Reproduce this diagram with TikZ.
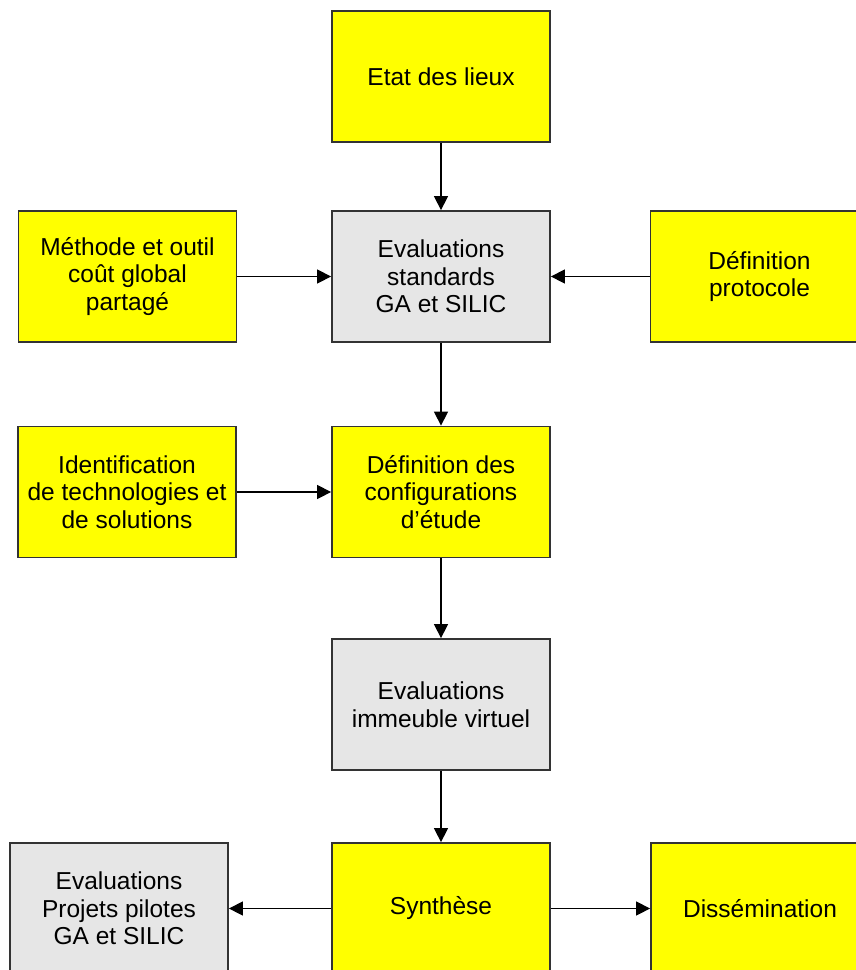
\documentclass[tikz,border=0pt]{standalone}
\usepackage{fontspec}
\setmainfont{Liberation Sans}
\usetikzlibrary{arrows.meta}
\definecolor{boxyellow}{HTML}{FFFF00}
\definecolor{boxgray}{HTML}{E6E6E6}
\definecolor{boxline}{HTML}{333333}
\begin{document}
\begin{tikzpicture}[x=1pt,y=-1pt,
  box/.style={draw=boxline, line width=1.8pt, minimum width=218pt, minimum height=131pt,
    inner sep=0pt, align=center, font=\fontsize{24.5}{27.5}\selectfont, text=black},
  ybox/.style={box, fill=boxyellow},
  gbox/.style={box, fill=boxgray},
  conn/.style={draw=black, line width=1.4pt, -{Triangle[length=14pt,width=14pt]}}]
\useasboundingbox (0,0) rectangle (856,970);
\clip (0,0) rectangle (856,970);
\fill[white] (0,0) rectangle (856,970);
\node[ybox] (etat) at (441,76.5) {Etat des lieux};
\node[ybox] (meth) at (127.5,276.5) {Méthode et outil\\coût global\\partagé};
\node[gbox] (evstd) at (441,276.5) {Evaluations\\standards\\GA et SILIC};
\node[ybox] (proto) at (759.5,276.5) {Définition\\protocole};
\node[ybox] (ident) at (127,492) {Identification\\de technologies et\\de solutions};
\node[ybox] (defconf) at (441,492) {Définition des\\configurations\\d’étude};
\node[gbox] (evimm) at (441,704.5) {Evaluations\\immeuble virtuel};
\node[gbox] (pilot) at (119,908.5) {Evaluations\\Projets pilotes\\GA et SILIC};
\node[ybox] (synth) at (441,908.5) {Synthèse};
\node[ybox] (diss) at (760,908.5) {Dissémination};
\draw[conn] (etat) -- (evstd);
\draw[conn] (meth) -- (evstd);
\draw[conn] (proto) -- (evstd);
\draw[conn] (evstd) -- (defconf);
\draw[conn] (ident) -- (defconf);
\draw[conn] (defconf) -- (evimm);
\draw[conn] (evimm) -- (synth);
\draw[conn] (synth) -- (pilot);
\draw[conn] (synth) -- (diss);
\end{tikzpicture}
\end{document}
